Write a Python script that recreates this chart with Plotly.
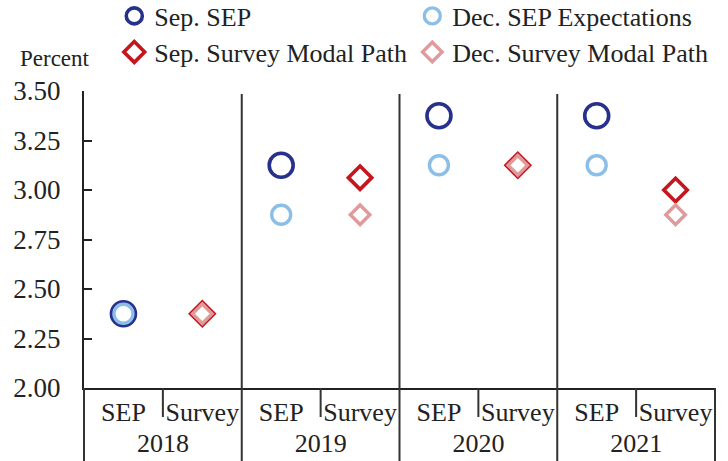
import plotly.graph_objects as go

years = ["2018", "2019", "2020", "2021"]
kinds = ["SEP", "Survey"]

sep_sep = [2.375, 3.125, 3.375, 3.375]
dec_sep = [2.375, 2.875, 3.125, 3.125]
sep_survey = [2.375, 3.0625, 3.125, 3.0]
dec_survey = [2.375, 2.875, 3.125, 2.875]

y_ticks = [2.00, 2.25, 2.50, 2.75, 3.00, 3.25, 3.50]
y_labels = ["2.00", "2.25", "2.50", "2.75", "3.00", "3.25", "3.50"]

NAVY = "#27318B"
LBLUE = "#8CBFE8"
RED = "#C4161C"
PINK = "#E09A9B"
FONT = "Liberation Serif"
INK = "#222222"

fig = go.Figure()

sep_x = [years, [kinds[0]] * len(years)]
srv_x = [years, [kinds[1]] * len(years)]

fig.add_trace(go.Scatter(x=sep_x, y=sep_sep, mode="markers", name="Sep. SEP",
                         legend="legend",
                         marker=dict(symbol="circle-open", size=24, color=NAVY,
                                     line=dict(width=3.6, color=NAVY))))
fig.add_trace(go.Scatter(x=sep_x, y=dec_sep, mode="markers", name="Dec. SEP Expectations",
                         legend="legend",
                         marker=dict(symbol="circle-open", size=19, color=LBLUE,
                                     line=dict(width=3.4, color=LBLUE))))
fig.add_trace(go.Scatter(x=srv_x, y=sep_survey, mode="markers", name="Sep. Survey Modal Path",
                         legend="legend2",
                         marker=dict(symbol="diamond-open", size=18, color=RED,
                                     line=dict(width=3.6, color=RED))))
fig.add_trace(go.Scatter(x=srv_x, y=dec_survey, mode="markers", name="Dec. Survey Modal Path",
                         legend="legend2",
                         marker=dict(symbol="diamond-open", size=15, color=PINK,
                                     line=dict(width=3.4, color=PINK))))

n = len(years)
n_cats = n * len(kinds)

fig.update_xaxes(type="multicategory", range=[-0.5, n_cats - 0.5],
                 showdividers=False, ticks="", showline=True,
                 linecolor=INK, linewidth=2,
                 tickfont=dict(family=FONT, size=26, color=INK),
                 showgrid=False, zeroline=False)
fig.update_yaxes(range=[2.0, 3.5], tickvals=y_ticks, ticktext=y_labels,
                 ticks="inside", ticklen=8, tickwidth=2, tickcolor=INK,
                 showline=True, linecolor=INK, linewidth=2,
                 showgrid=False, zeroline=False, ticklabelstandoff=16,
                 tickfont=dict(family=FONT, size=27, color=INK))

# divider lines
line_style = dict(color="#333333", width=2)
for i in range(1, n):
    fig.add_shape(type="line", xref="x domain", yref="paper",
                  x0=i / n, x1=i / n, y0=0, y1=0.99,
                  line=line_style, layer="below")
for i in range(0, n + 1):
    fig.add_shape(type="line", xref="x domain", yref="paper",
                  x0=i / n, x1=i / n, y0=0, y1=-73 / 297,
                  line=line_style)
for i in range(n):
    xm = (i + 0.5) / n
    fig.add_shape(type="line", xref="x domain", yref="paper",
                  x0=xm, x1=xm, y0=0, y1=-29 / 297, line=line_style)

fig.add_annotation(text="Percent", xref="paper", yref="paper", x=-0.046, y=1.108,
                   xanchor="center", yanchor="middle", showarrow=False,
                   font=dict(family=FONT, size=23, color=INK))

legend_common = dict(orientation="h", xanchor="left", yanchor="middle",
                     font=dict(family=FONT, size=26, color=INK),
                     bgcolor="rgba(0,0,0,0)", itemsizing="trace",
                     entrywidth=253, entrywidthmode="pixels",
                     itemwidth=30, traceorder="normal")

fig.update_layout(
    width=728, height=461,
    margin=dict(l=84, r=13, t=91, b=73, autoexpand=False),
    paper_bgcolor="white", plot_bgcolor="white",
    showlegend=True,
    legend=dict(x=0.048, y=1.2525, **legend_common),
    legend2=dict(x=0.048, y=1.131, **legend_common),
)

fig.write_html("out.html", config={"displayModeBar": False},
               post_script="document.body.style.margin='0';document.body.style.padding='0';")
